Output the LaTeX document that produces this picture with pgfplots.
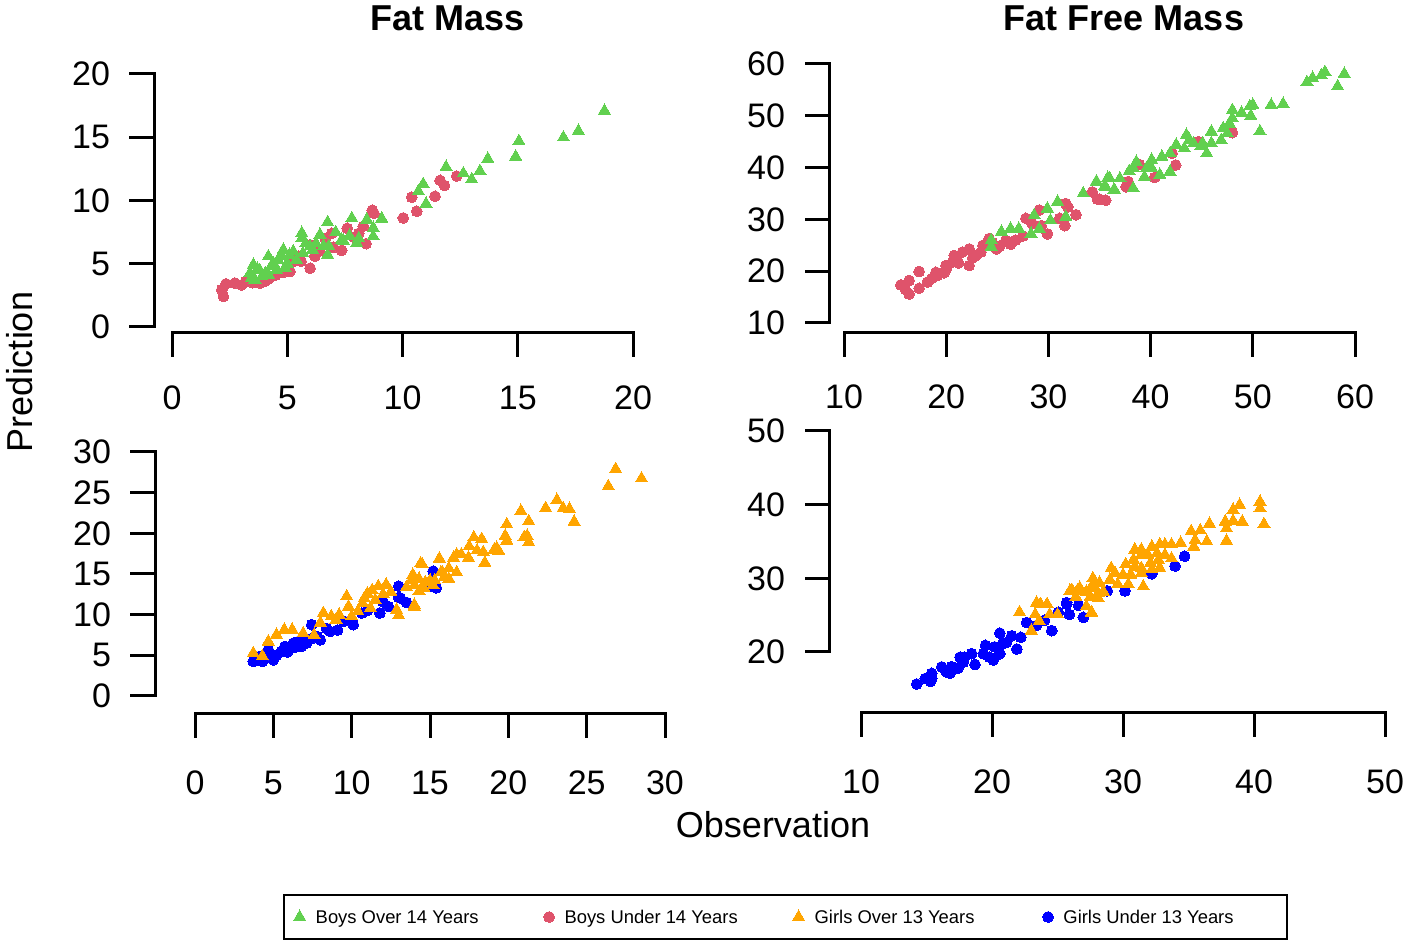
\documentclass[border=0pt]{standalone}
\usepackage{fontspec}
\setmainfont{Liberation Sans}
\usepackage{pgfplots}
\pgfplotsset{compat=1.18}
\definecolor{rgreen}{HTML}{61D04F}
\definecolor{rred}{HTML}{DF536B}
\definecolor{rorange}{HTML}{FFA500}
\definecolor{rblue}{HTML}{0000FF}

\pgfplotstableread{
x y
18.76 17.09
17.63 15.50
16.98 14.98
15.05 14.70
14.91 13.47
13.70 13.30
13.36 12.33
13.00 11.67
12.64 12.14
11.89 12.65
10.90 11.30
10.69 10.74
11.02 9.74
9.10 8.57
8.73 7.17
8.73 7.83
8.45 8.49
7.80 8.60
8.01 6.64
7.70 7.20
7.36 6.90
6.75 8.28
6.75 5.71
6.42 7.30
5.63 7.43
5.63 7.00
6.57 6.40
5.99 6.37
5.26 5.98
4.83 6.11
4.76 5.60
4.18 5.58
4.40 5.05
3.53 4.92
3.38 4.26
3.60 3.73
3.80 4.50
4.05 4.26
4.54 4.52
5.40 5.30
5.68 5.82
6.10 6.10
6.25 6.60
6.80 6.40
7.44 6.80
8.10 7.00
4.30 4.80
5.00 5.00
3.90 4.00
5.10 5.70
3.70 4.60
4.20 4.10
4.90 4.70
5.80 6.60
7.10 7.50
3.45 3.90
4.60 5.30
}\fmBoysOver

\pgfplotstableread{
x y
12.35 11.93
11.63 11.59
11.82 11.19
11.41 10.34
10.40 10.26
10.62 9.15
10.03 8.62
8.69 9.23
8.76 8.99
8.30 7.96
8.10 7.40
8.42 6.59
7.60 7.80
7.36 6.06
6.93 7.40
6.65 7.00
6.00 6.50
5.99 4.65
5.12 4.39
5.50 5.60
5.20 5.10
3.82 3.47
3.02 3.33
2.73 3.47
2.34 3.41
2.16 2.94
2.23 2.41
3.20 3.60
4.50 4.10
4.80 4.30
6.40 6.00
7.90 7.10
4.20 3.80
3.50 3.50
4.00 3.60
5.60 5.20
6.20 5.60
7.00 6.30
}\fmBoysUnder

\pgfplotstableread{
x y
15.56 17.36
16.37 18.20
16.37 15.60
16.00 16.50
17.35 19.94
17.35 16.70
18.17 17.90
19.15 19.20
19.97 21.10
19.80 19.70
20.62 21.76
20.78 23.04
21.10 22.00
21.60 23.70
22.25 24.30
22.25 21.10
22.90 23.00
23.40 23.70
24.20 26.30
24.90 24.30
25.85 25.95
26.80 26.00
27.50 26.80
27.80 30.20
28.40 29.20
29.10 31.80
29.30 28.80
29.90 27.20
31.10 30.20
31.60 28.80
31.70 33.06
31.90 32.40
32.70 30.90
34.30 35.30
34.80 33.90
35.60 33.70
19.00 19.80
20.00 20.40
18.60 18.60
21.20 21.60
22.60 22.60
23.60 25.00
24.50 25.50
25.20 24.80
26.30 25.20
42.45 40.50
40.40 38.10
42.10 42.75
44.70 45.00
48.00 46.75
38.90 40.60
37.80 37.30
37.60 36.30
35.00 33.90
}\ffmBoysUnder

\pgfplotstableread{
x y
24.40 26.00
24.40 24.70
25.40 27.60
26.30 28.20
27.10 28.20
28.30 27.20
28.60 30.80
29.10 28.20
29.90 32.10
30.20 29.80
30.90 33.40
31.70 30.50
33.40 35.00
34.70 37.30
35.80 38.00
35.50 36.40
36.40 35.70
58.95 58.10
57.06 58.45
56.70 57.80
55.85 57.30
55.30 56.50
58.30 55.70
52.97 52.30
51.80 52.10
50.70 47.00
50.00 52.10
49.70 51.80
49.80 50.00
48.90 50.60
48.00 51.10
48.00 49.50
47.70 48.50
47.10 47.60
47.50 46.60
46.90 45.30
45.95 46.96
45.95 44.70
45.10 44.70
45.50 42.75
44.90 44.10
44.20 44.70
43.50 46.30
43.30 43.70
43.80 45.40
42.50 44.40
41.90 42.75
41.10 42.10
40.10 41.50
40.10 39.90
39.60 39.90
38.60 41.10
38.30 39.90
37.90 39.30
39.40 38.20
41.90 39.20
40.90 38.60
37.00 37.90
36.00 37.90
34.70 37.30
35.60 36.30
36.50 35.60
38.30 36.00
}\ffmBoysOver

\pgfplotstableread{
x y
3.72 4.24
4.30 4.24
5.00 4.44
4.50 5.00
4.68 5.68
5.53 5.47
5.74 6.09
6.00 5.90
6.28 6.50
6.60 6.70
7.13 6.50
7.50 7.10
7.45 8.77
7.80 7.30
8.00 6.90
8.62 7.94
9.10 8.10
10.10 8.77
10.65 10.20
11.80 10.20
12.34 11.00
13.10 12.06
13.50 11.50
13.00 13.50
15.20 15.35
15.40 13.30
6.78 6.10
5.20 5.00
4.10 4.85
5.90 5.40
6.40 6.00
7.00 6.90
8.40 8.30
9.50 9.20
13.00 12.10
15.00 13.50
15.30 13.50
11.00 10.50
12.00 11.60
}\fmGirlsUnder

\pgfplotstableread{
x y
3.72 5.27
4.30 4.90
4.68 6.70
5.20 7.53
5.70 8.15
6.20 8.15
6.90 7.70
7.60 7.50
8.19 10.20
8.70 9.80
9.20 10.00
9.68 12.26
9.80 11.00
10.40 10.40
10.70 11.40
11.00 12.60
11.30 13.00
11.70 13.50
12.20 13.70
12.87 10.60
13.00 9.90
14.00 11.20
14.00 14.60
14.50 16.20
14.60 13.30
15.30 14.20
15.70 15.20
16.20 14.40
26.85 27.90
28.50 26.75
26.38 25.80
23.10 24.10
23.50 23.10
23.90 23.00
24.20 21.44
22.38 23.10
20.80 22.75
21.30 21.50
19.90 21.10
19.80 19.70
19.90 19.10
21.20 19.70
21.30 18.90
21.00 19.50
19.26 18.20
19.40 17.80
19.10 18.00
18.50 16.40
18.30 19.30
17.80 19.50
17.50 18.40
18.00 17.90
18.40 17.70
17.45 17.00
17.00 17.40
16.70 17.40
16.50 17.00
15.60 16.90
14.40 16.30
16.70 15.20
16.20 15.70
15.80 15.20
15.90 14.60
16.20 14.40
15.00 14.20
15.20 13.60
14.70 14.00
13.90 14.90
13.80 14.20
13.50 13.40
14.00 13.60
14.30 14.40
14.30 12.90
14.00 11.00
10.00 9.80
11.50 11.80
12.50 12.80
8.00 9.00
9.00 9.40
10.80 12.00
12.00 12.50
11.20 10.80
}\fmGirlsOver

\pgfplotstableread{
x y
14.25 15.65
14.90 16.40
15.30 16.00
15.40 16.40
15.40 17.10
16.16 17.98
16.50 17.30
16.80 17.10
16.90 18.00
17.40 17.80
17.56 19.30
17.80 18.60
17.90 19.30
18.45 19.77
18.70 18.30
19.34 19.77
19.50 20.90
19.80 19.30
20.10 18.90
20.20 20.70
20.60 19.77
20.80 21.10
20.60 22.56
21.10 21.30
21.50 22.20
21.90 20.40
22.20 22.00
22.65 24.00
23.40 23.60
24.56 22.90
25.06 25.40
25.70 26.50
25.90 25.10
26.97 24.70
34.70 33.00
33.97 31.67
32.20 30.60
30.15 28.30
28.80 28.30
26.60 26.30
25.70 26.70
24.00 24.30
}\ffmGirlsUnder

\pgfplotstableread{
x y
22.10 25.40
23.00 22.90
23.40 26.70
23.70 26.50
23.30 25.10
23.60 24.20
24.40 25.10
25.00 25.10
25.95 28.30
26.50 28.30
27.60 25.30
27.20 26.20
27.70 29.20
28.10 28.00
40.46 40.40
40.46 39.50
38.90 39.96
38.40 39.30
40.76 37.36
39.10 37.70
38.40 37.80
37.80 37.70
37.90 36.80
37.90 35.10
36.60 37.40
35.90 36.50
36.40 35.00
35.20 36.40
35.50 35.20
35.40 34.30
34.40 34.80
33.70 34.60
33.20 34.60
32.80 34.60
32.20 34.30
31.40 33.90
30.90 33.90
31.40 33.20
31.90 33.20
32.60 33.40
33.20 33.20
33.70 32.70
32.70 32.50
32.10 32.10
31.40 31.40
30.80 32.55
30.20 31.90
30.90 31.60
32.20 31.20
32.80 31.40
29.10 31.40
29.40 30.70
30.00 30.50
30.60 30.50
31.40 30.70
31.55 28.90
30.40 29.20
29.60 29.20
29.00 29.80
28.20 29.40
27.70 30.00
27.70 28.70
28.50 28.20
27.20 28.20
26.70 28.70
26.10 28.40
26.40 27.50
27.50 27.50
28.10 27.30
24.20 26.50
27.60 25.40
}\ffmGirlsOver

\pgfplotsset{
  rpanel/.style={
    scale only axis, clip=false,
    separate axis lines,
    axis x line*=bottom, axis y line*=left,
    axis line style={-, line width=1.5pt, line cap=rect},
    tick style={black, line width=1.5pt, line cap=rect},
    tick align=outside, major tick length=11.5pt,
    hide obscured x ticks=false, hide obscured y ticks=false,
    ticklabel style={font=\fontsize{17}{20}\selectfont},
    /pgf/number format/assume math mode=true,
    yticklabel style={anchor=east, xshift=-7pt},
    anchor=south west,
  },
  tri/.style={only marks, mark=triangle*, mark size=3.5pt, color=#1, mark options={draw=#1, fill=#1, line width=0pt}},
  circ/.style={only marks, mark=*, mark size=2.7pt, color=#1, mark options={draw=#1, fill=#1, line width=0pt}},
}

\begin{document}
\begin{tikzpicture}
\useasboundingbox (0pt,0pt) rectangle (703pt,470pt);

% Fat Mass, boys
\begin{axis}[rpanel, at={(86pt,306.5pt)}, width=230.5pt, height=126.5pt,
  xmin=0, xmax=20, ymin=0, ymax=20,
  xtick={0,5,...,20}, ytick={0,5,...,20},
  xticklabel style={anchor=north, yshift=-11.5pt},
  axis x line shift=3pt, axis y line shift=9pt]
  \addplot[circ=rred] table {\fmBoysUnder};
  \addplot[tri=rgreen] table {\fmBoysOver};
\end{axis}

% Fat Free Mass, boys
\begin{axis}[rpanel, at={(422pt,308.5pt)}, width=255.5pt, height=129.5pt,
  xmin=10, xmax=60, ymin=10, ymax=60,
  xtick={10,20,...,60}, ytick={10,20,...,60},
  xticklabel style={anchor=north, yshift=-11pt},
  axis x line shift=5pt, axis y line shift=7.5pt]
  \addplot[circ=rred] table {\ffmBoysUnder};
  \addplot[tri=rgreen] table {\ffmBoysOver};
\end{axis}

% Fat Mass, girls
\begin{axis}[rpanel, at={(97.5pt,122pt)}, width=235pt, height=122pt,
  xmin=0, xmax=30, ymin=0, ymax=30,
  xtick={0,5,...,30}, ytick={0,5,...,30},
  xticklabel style={anchor=north, yshift=-13.5pt},
  axis x line shift=9pt, axis y line shift=20pt]
  \addplot[circ=rblue] table {\fmGirlsUnder};
  \addplot[tri=rorange] table {\fmGirlsOver};
\end{axis}

% Fat Free Mass, girls
\begin{axis}[rpanel, at={(430.5pt,144pt)}, width=262pt, height=110.5pt,
  xmin=10, xmax=50, ymin=20, ymax=50,
  xtick={10,20,...,50}, ytick={20,30,40,50},
  xticklabel style={anchor=north, yshift=-13.5pt},
  axis x line shift=30.5pt, axis y line shift=16pt]
  \addplot[circ=rblue] table {\ffmGirlsUnder};
  \addplot[tri=rorange] table {\ffmGirlsOver};
\end{axis}

% legend holder
\begin{axis}[hide axis, scale only axis, at={(0pt,0pt)}, anchor=south west,
  width=703pt, height=470pt, xmin=0, xmax=1, ymin=0, ymax=1,
  legend columns=4,
  legend image code/.code={\draw[#1] plot coordinates {(0pt,0pt)};},
  legend style={at={(0.5587,0.02447)}, anchor=center, draw=black, line width=1pt,
    font=\fontsize{9.2}{11}\selectfont, inner xsep=5pt, inner ysep=5.7pt,
    nodes={inner sep=0pt, text height=8.6pt, text depth=2pt},
    /tikz/every odd column/.append style={column sep=5pt},
    /tikz/every even column/.append style={column sep=0pt}},
  legend cell align=left]
  \addlegendimage{mark=triangle*, mark size=3.5pt, color=rgreen, mark options={fill=rgreen, draw=rgreen, line width=0pt}}
  \addlegendentry{\makebox[114pt][l]{Boys Over 14 Years}}
  \addlegendimage{mark=*, mark size=2.7pt, color=rred, mark options={fill=rred, draw=rred, line width=0pt}}
  \addlegendentry{\makebox[114pt][l]{Boys Under 14 Years}}
  \addlegendimage{mark=triangle*, mark size=3.5pt, color=rorange, mark options={fill=rorange, draw=rorange, line width=0pt}}
  \addlegendentry{\makebox[114pt][l]{Girls Over 13 Years}}
  \addlegendimage{mark=*, mark size=2.7pt, color=rblue, mark options={fill=rblue, draw=rblue, line width=0pt}}
  \addlegendentry{\makebox[107pt][l]{Girls Under 13 Years}}
\end{axis}

\node[font=\bfseries\fontsize{18}{22}\selectfont] at (224pt,461pt) {Fat Mass};
\node[font=\bfseries\fontsize{18}{22}\selectfont] at (562pt,461pt) {Fat Free Mass};
\node[font=\fontsize{18}{22}\selectfont, rotate=90] at (10pt,284pt) {Prediction};
\node[font=\fontsize{18}{22}\selectfont] at (386.5pt,57.5pt) {Observation};
\end{tikzpicture}
\end{document}
